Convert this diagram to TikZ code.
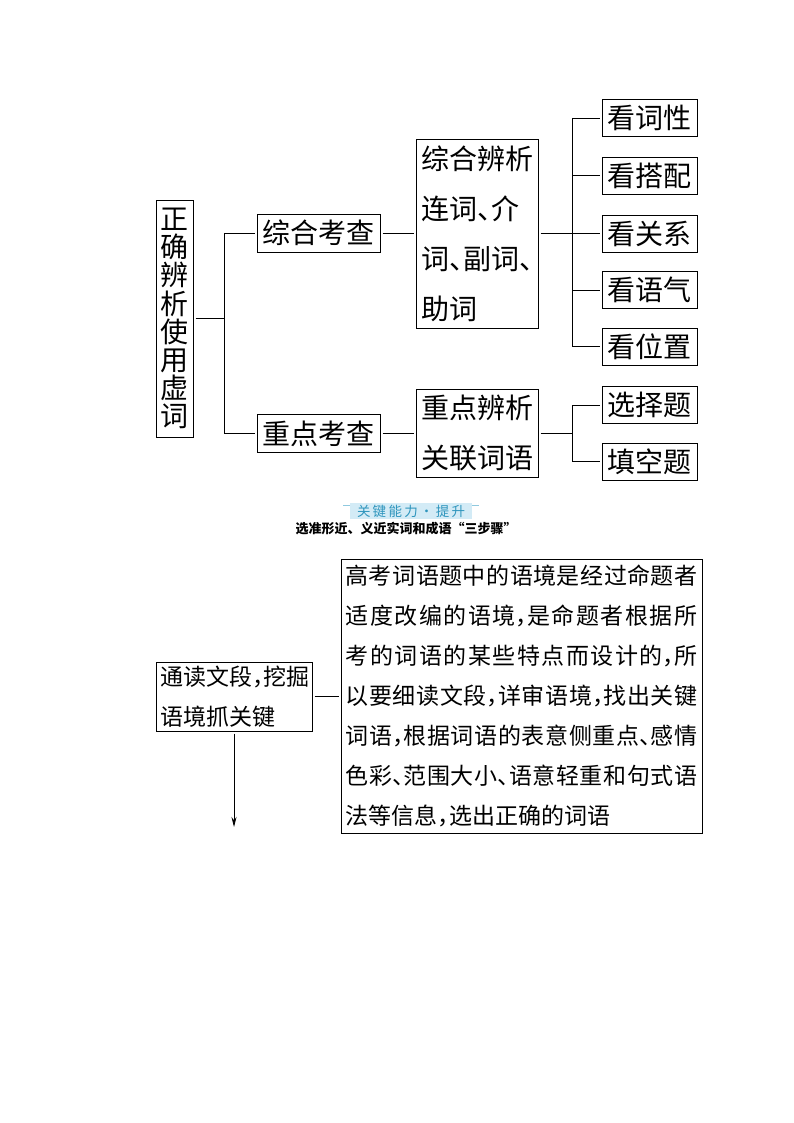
\documentclass[tikz,border=0pt]{standalone}
\usepackage{fontspec}
\setmainfont{Noto Sans CJK SC}
\usetikzlibrary{arrows.meta}
\definecolor{bannerfill}{HTML}{D3EBF6}
\definecolor{bannerline}{HTML}{8FC9DF}
\definecolor{bannertext}{HTML}{2E95BD}
\newcommand\fsz[2]{\fontsize{#1}{#2}\selectfont}
\newcommand\hc{\makebox[0.5em][l]{，}}
\newcommand\hd{\makebox[0.5em][l]{、}}
\tikzset{
  box/.style={draw, line width=0.9pt, inner sep=0pt, outer sep=2.5pt},
  leaf/.style={box, minimum width=95pt, minimum height=37pt, font=\fsz{28}{28}},
  mbox/.style={box, minimum width=123pt, minimum height=38pt, font=\fsz{28}{28}},
  conn/.style={line width=0.9pt},
}
\begin{document}
\begin{tikzpicture}[x=1pt,y=-1pt]
\useasboundingbox (0,0) rectangle (794,1123);
\fill[white] (0,0) rectangle (794,1123);

% top tree
\node[box, minimum width=37pt, minimum height=237pt, align=center, font=\fsz{28}{28.2}] (root) at (174.5,318.5) {正\\确\\辨\\析\\使\\用\\虚\\词};
\node[mbox] (zh1) at (318.5,233) {综合考查};
\node[mbox] (zh2) at (318.5,433.5) {重点考查};
\node[box, minimum width=122pt, minimum height=189pt, text width=112pt, align=left, font=\fsz{28}{50}] (mid1) at (477,233.5) {综合辨析\\连词\hd 介\\词\hd 副词\hd\\助词};
\node[box, minimum width=122pt, minimum height=88pt, text width=112pt, align=left, font=\fsz{28}{50}] (mid2) at (477,433) {重点辨析\\关联词语};
\node[leaf] (k1) at (649.5,118) {看词性};
\node[leaf] (k2) at (649.5,175.5) {看搭配};
\node[leaf] (k3) at (649.5,233.5) {看关系};
\node[leaf] (k4) at (649.5,290) {看语气};
\node[leaf] (k5) at (649.5,346.5) {看位置};
\node[leaf] (s1) at (649.5,405) {选择题};
\node[leaf] (s2) at (649.5,461.5) {填空题};

\coordinate (j1) at (224,318.5);
\draw[conn] (root.east) -- (j1);
\draw[conn] (j1 |- zh1.west) -- (j1 |- zh2.west);
\draw[conn] (j1 |- zh1.west) -- (zh1.west);
\draw[conn] (j1 |- zh2.west) -- (zh2.west);
\draw[conn] (zh1.east) -- (zh1.east -| mid1.west);
\draw[conn] (zh2.east) -- (zh2.east -| mid2.west);

\coordinate (j2) at (572,233.5);
\draw[conn] (mid1.east) -- (j2);
\draw[conn] (j2 |- k1.west) -- (j2 |- k5.west);
\foreach \k in {k1,k2,k3,k4,k5} \draw[conn] (j2 |- \k.west) -- (\k.west);
\coordinate (j3) at (572,433);
\draw[conn] (mid2.east) -- (j3);
\draw[conn] (j3 |- s1.west) -- (j3 |- s2.west);
\foreach \k in {s1,s2} \draw[conn] (j3 |- \k.west) -- (\k.west);

% banner
\node[fill=bannerfill, minimum width=122pt, minimum height=16pt, inner sep=0pt, text=bannertext, font=\fsz{13.5}{13.5}] (ban) at (411,511) {\makebox[108pt][s]{关\hfil 键\hfil 能\hfil 力\hfil ·\hfil 提\hfil 升}};
\draw[bannerline, line width=0.8pt] (343,505) -- (350,505);
\draw[bannerline, line width=0.8pt] (472,505) -- (479,505);
\node[font=\bfseries\fsz{13}{13}] (sub) at (406,529) {选准形近、义近实词和成语“三步骤”};

% bottom
\node[box, minimum width=156pt, minimum height=69pt, text width=148pt, align=left, font=\fsz{23}{40}] (a) at (234,696.5) {通读文段\hc 挖掘\\语境抓关键};
\node[box, minimum width=361pt, minimum height=274pt, text width=352pt, align=justify, font=\fsz{23}{40}] (b) at (521.5,696) {\XeTeXlinebreaklocale "zh"\XeTeXlinebreakskip=0pt plus 4pt\tolerance=10000 高考词语题中的语境是经过命题者\linebreak 适度改编的语境\hc 是命题者根据所\linebreak 考的词语的某些特点而设计的\hc 所\linebreak 以要细读文段\hc 详审语境\hc 找出关键\linebreak 词语\hc 根据词语的表意侧重点\hd 感情\linebreak 色彩\hd 范围大小\hd 语意轻重和句式语\linebreak 法等信息\hc 选出正确的词语};
\draw[conn] (a.east) -- (a.east -| b.west);
\coordinate (aend) at (234,827);
\draw[conn, -{Stealth[length=10pt,width=5pt]}] (a.south) -- (aend);
\end{tikzpicture}
\end{document}
